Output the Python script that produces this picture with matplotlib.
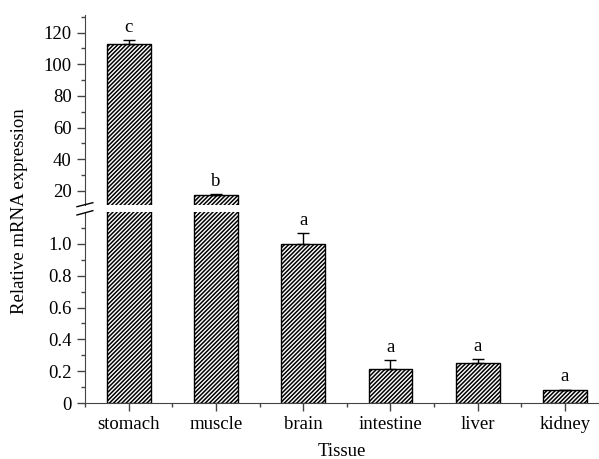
import numpy as np
import matplotlib.pyplot as plt
from matplotlib.ticker import MultipleLocator, FixedLocator

plt.rcParams['font.family'] = ['Liberation Serif', 'DejaVu Serif']
plt.rcParams['hatch.linewidth'] = 1.1

tissues = ['stomach', 'muscle', 'brain', 'intestine', 'liver', 'kidney']
expr = [112.7, 17.7, 1.0, 0.213, 0.252, 0.082]
err = [2.6, 0.3, 0.066, 0.056, 0.024, 0.002]
letters = ['c', 'b', 'a', 'a', 'a', 'a']

x = np.arange(len(tissues))
fs = 13.5

fig = plt.figure(figsize=(5.99, 4.59), dpi=100)
ax_top = fig.add_axes([0.142, 0.553, 0.858, 0.414])
ax_bot = fig.add_axes([0.142, 0.122, 0.858, 0.416])

for ax in (ax_top, ax_bot):
    ax.bar(x, expr, width=0.5, color='white', edgecolor='black',
           hatch='////////', linewidth=1.0)
    ax.errorbar(x, expr, yerr=[np.zeros(len(err)), err], fmt='none',
                ecolor='black', elinewidth=1, capsize=4, capthick=1)
    ax.spines['top'].set_visible(False)
    ax.spines['right'].set_visible(False)
    ax.spines['left'].set_color('#444444')
    ax.spines['bottom'].set_color('#444444')
    ax.set_xlim(-0.5, 5.39)
    ax.tick_params(axis='both', which='major', direction='out', length=6,
                   width=1, labelsize=fs, color='#444444')
    ax.tick_params(axis='both', which='minor', direction='out', length=3,
                   width=1, color='#444444')
    ax.xaxis.set_minor_locator(FixedLocator(np.arange(-0.5, 5.6, 1)))

ax_top.set_ylim(11, 131)
ax_bot.set_ylim(0, 1.2)
ax_top.spines['bottom'].set_visible(False)
ax_top.tick_params(axis='x', which='both', bottom=False, labelbottom=False)
ax_top.yaxis.set_major_locator(FixedLocator([20, 40, 60, 80, 100, 120]))
ax_top.yaxis.set_minor_locator(MultipleLocator(10))
ax_bot.yaxis.set_major_locator(FixedLocator([0, 0.2, 0.4, 0.6, 0.8, 1.0]))
ax_bot.yaxis.set_minor_locator(FixedLocator(np.arange(0.1, 1.15, 0.2)))
ax_bot.set_yticklabels(['0', '0.2', '0.4', '0.6', '0.8', '1.0'])
ax_bot.set_xticks(x)
ax_bot.set_xticklabels(tissues)
ax_bot.set_xlabel('Tissue', fontsize=fs, labelpad=7)

# significance letters
for i in range(len(tissues)):
    ax = ax_top if expr[i] > 1.2 else ax_bot
    ax.annotate(letters[i], (x[i], expr[i] + err[i]), xytext=(0, 3),
                textcoords='offset points', ha='center', va='bottom',
                fontsize=fs)

fig.text(0.033, 0.541, 'Relative mRNA expression', rotation=90,
         ha='center', va='center', fontsize=fs)

# break marks on the y axis
for y0, y1 in ((0.5497, 0.5584), (0.5316, 0.5410)):
    fig.add_artist(plt.Line2D([0.1285, 0.155], [y0, y1],
                              color='black', lw=1, transform=fig.transFigure))

fig.savefig('out.png', dpi=100)
